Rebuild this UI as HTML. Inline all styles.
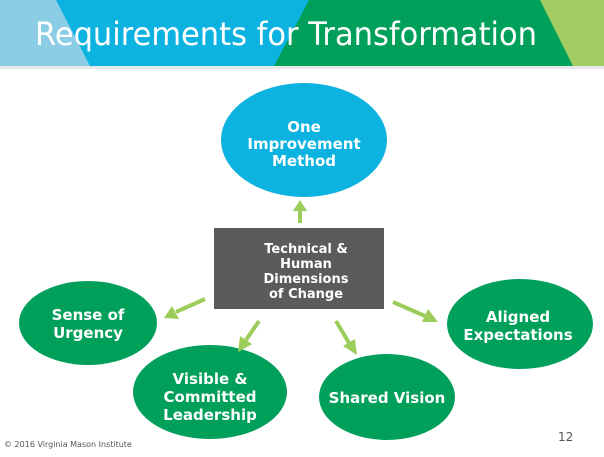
<!DOCTYPE html>
<html><head><meta charset="utf-8"><style>
body{margin:0;width:604px;height:453px;overflow:hidden;background:#fff;font-family:"DejaVu Sans","Liberation Sans",sans-serif;}
</style></head><body>
<svg width="604" height="453" viewBox="0 0 604 453" xmlns="http://www.w3.org/2000/svg">
<rect x="0" y="0" width="604" height="66" fill="#a2cd63"/>
<polygon points="0,0 540,0 573,66 0,66" fill="#00a05a"/>
<polygon points="0,0 309,0 274,66 0,66" fill="#0db3e0"/>
<polygon points="0,0 56,0 90,66 0,66" fill="#8ccde6"/>
<rect x="0" y="66" width="604" height="3" fill="#e6e8ea"/>
<text x="35" y="45" font-size="32" fill="#fff" font-family="DejaVu Sans, sans-serif" textLength="502" lengthAdjust="spacingAndGlyphs">Requirements for Transformation</text>

<g fill="#fff" font-weight="bold" font-size="15" text-anchor="middle">
<ellipse cx="304" cy="140" rx="83" ry="57" fill="#0db3e0"/>
<text x="304" y="132">One</text><text x="304" y="149">Improvement</text><text x="304" y="166">Method</text>

<rect x="214" y="228" width="170" height="81" fill="#5b5b5d"/>
<g font-size="13"><text x="306" y="253">Technical &amp;</text><text x="306" y="268">Human</text><text x="306" y="283">Dimensions</text><text x="306" y="298">of Change</text></g>

<ellipse cx="88" cy="323" rx="69" ry="42" fill="#00a05a"/>
<text x="88" y="320">Sense of</text><text x="88" y="338">Urgency</text>
<ellipse cx="210" cy="392" rx="77" ry="47" fill="#00a05a"/>
<text x="210" y="384">Visible &amp;</text><text x="210" y="402">Committed</text><text x="210" y="420">Leadership</text>
<ellipse cx="387" cy="397" rx="68" ry="43" fill="#00a05a"/>
<text x="387" y="403">Shared Vision</text>
<ellipse cx="520" cy="324" rx="73" ry="45" fill="#00a05a"/>
<text x="518" y="322">Aligned</text><text x="518" y="340">Expectations</text>
</g>

<g stroke="#9ccc5a" stroke-width="4" fill="#9ccc5a">
<line x1="300" y1="223" x2="300" y2="210"/><polygon points="293,211 307,211 300,200" stroke="none"/>
<line x1="205" y1="299" x2="176" y2="312"/><polygon points="172,306 179,319 164,318" stroke="none"/>
<line x1="259" y1="321" x2="246" y2="340"/><polygon points="240,336 252,344 238,352" stroke="none"/>
<line x1="336" y1="321" x2="349" y2="343"/><polygon points="343,346 355,339 357,355" stroke="none"/>
<line x1="393" y1="302" x2="425" y2="316"/><polygon points="422,322 428,309 438,322" stroke="none"/>
</g>
<text x="4" y="447" font-size="8" fill="#555">© 2016 Virginia Mason Institute</text>
<text x="558" y="441" font-size="12" fill="#555">12</text>
</svg>
</body></html>
